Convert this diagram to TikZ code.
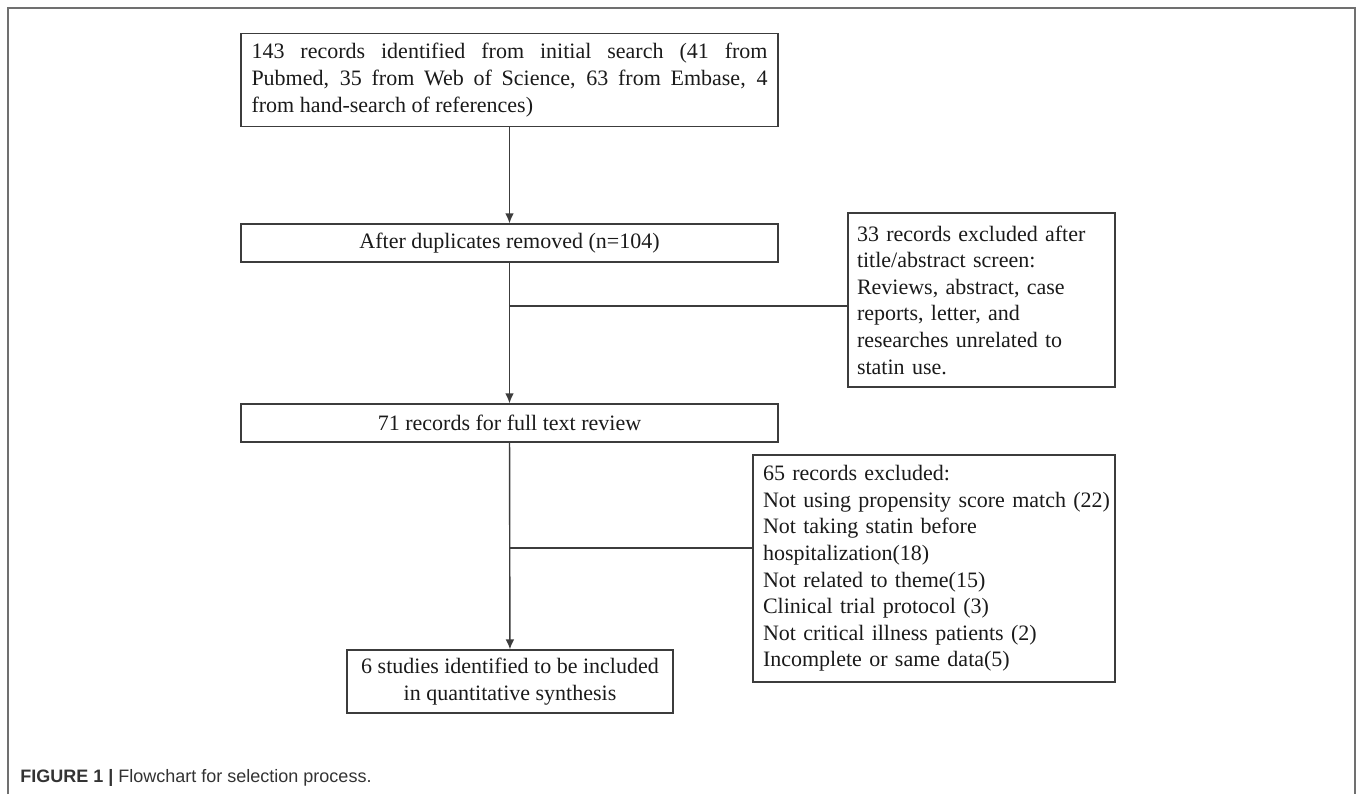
\documentclass[tikz,border=0pt]{standalone}
\usepackage{fontspec}
\setmainfont{Liberation Serif}
\newfontfamily\capfont{Liberation Sans}
\usetikzlibrary{arrows.meta}
\definecolor{linec}{HTML}{3C3C3C}
\definecolor{framec}{HTML}{707070}
\definecolor{txtc}{HTML}{1A1A1A}
\definecolor{capc}{HTML}{333333}
\begin{document}
\begin{tikzpicture}[x=0.5pt,y=-0.5pt,
  box/.style={draw=linec, line width=0.7pt, text=txtc, font=\fontsize{11}{13.3}\selectfont, inner sep=0pt},
  conn/.style={draw=linec, line width=0.7pt},
  arr/.style={conn, -{Latex[length=5pt,width=4.4pt]}}]
\useasboundingbox (0,0) rectangle (1357,794);
\draw[framec, line width=0.6pt] (8,794) -- (8,8) -- (1355,8) -- (1355,794);

\node[box, minimum width=268.5pt, minimum height=46.5pt, text width=258pt, align=justify] (b1) at (509.5,80)
  {143 records identified from initial search (41 from\linebreak Pubmed, 35 from Web of Science, 63 from Embase, 4\linebreak from hand-search of references)};
\node[box, minimum width=268.5pt, minimum height=19pt] (b2) at (509.5,243) {After duplicates removed (n=104)};
\node[box, minimum width=268.5pt, minimum height=19pt] (b3) at (509.5,423) {71 records for full text review};
\node[box, minimum width=133.5pt, minimum height=87pt, text width=124.5pt, align=left] (b4) at (981.5,300)
  {33 records excluded after\\ title/abstract screen:\\ Reviews, abstract, case\\ reports, letter, and\\ researches unrelated to\\ statin use.};
\node[box, minimum width=181pt, minimum height=113.5pt, text width=171pt, align=left] (b5) at (934,568.5)
  {65 records excluded:\\ \mbox{Not using propensity score match (22)}\\ Not taking statin before\\ hospitalization(18)\\ Not related to theme(15)\\ Clinical trial protocol (3)\\ Not critical illness patients (2)\\ Incomplete or same data(5)};
\node[box, minimum width=163pt, minimum height=31.5pt, align=center] (b6) at (510,681.5)
  {6 studies identified to be included\\ in quantitative synthesis};

\coordinate (j1) at (509.5,306);
\coordinate (j2) at (509.5,548);
\draw[arr] (b1) -- (b2);
\draw[arr] (b2) -- (b3);
\draw[arr] (b3) -- (b6);
\draw[conn] (j1) -- (j1 -| b4.west);
\draw[conn] (j2) -- (j2 -| b5.west);

\node[anchor=west, inner sep=0pt, text=capc, font=\capfont\fontsize{9}{11}\selectfont] (cap) at (20,778)
  {\textbf{FIGURE 1 |} Flowchart for selection process.};
\end{tikzpicture}
\end{document}
